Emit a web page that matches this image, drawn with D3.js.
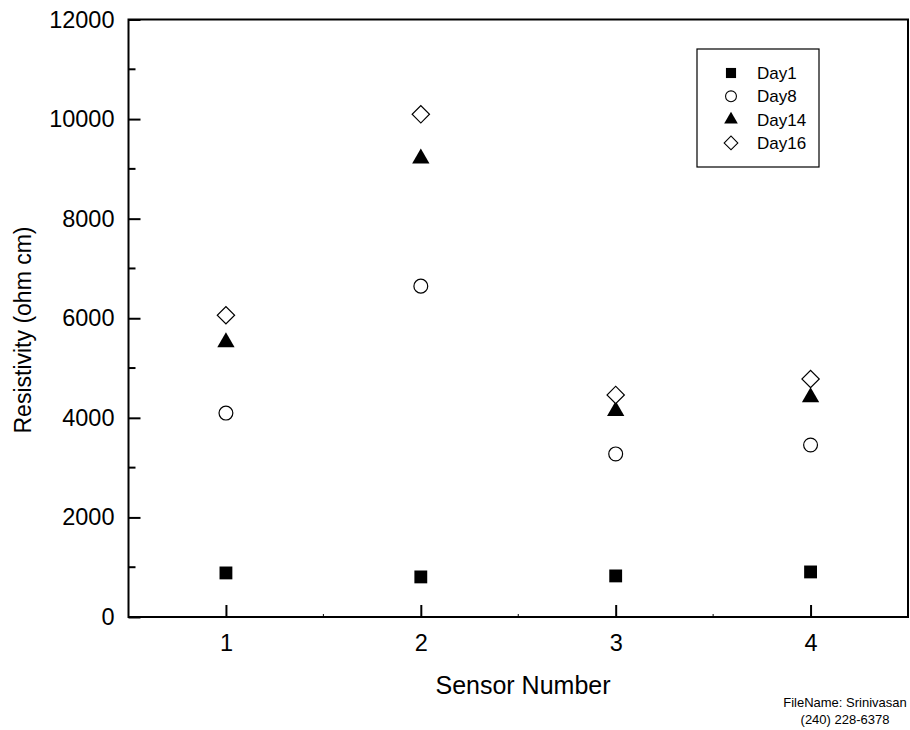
<!DOCTYPE html>
<html>
<head>
<meta charset="utf-8">
<script src="https://cdn.jsdelivr.net/npm/d3@7"></script>
<style>
  body { margin: 0; background: #fff; }
  text { font-family: "Liberation Sans", Arial, sans-serif; fill: #000; }
</style>
</head>
<body>
<script>
// Chart data
var sensors = [1, 2, 3, 4];
var seriesNames = ['Day1', 'Day8', 'Day14', 'Day16'];
var day1 = [885, 805, 825, 905];
var day8 = [4095, 6645, 3275, 3455];
var day14 = [5520, 9210, 4135, 4415];
var day16 = [6060, 10095, 4460, 4780];
var yTicks = [0, 2000, 4000, 6000, 8000, 10000, 12000];

var width = 910,
    height = 730;
var margin = {left: 128.5, right: 2, top: 19.5, bottom: 113};

var svg = d3.select("body").append("svg")
    .attr("width", width)
    .attr("height", height);

var x = d3.scaleLinear().domain([0.5, 4.5]).range([margin.left, width - margin.right]);
var y = d3.scaleLinear().domain([0, 12000]).range([height - margin.bottom, margin.top]);

// symbols per series (diamond = square turned 45 degrees)
var shapes = [
    {type: d3.symbolSquare, size: 165, fill: '#000', rot: 0},
    {type: d3.symbolCircle, size: 150, fill: '#fff', rot: 0},
    {type: d3.symbolTriangle, size: 130, fill: '#000', rot: 0},
    {type: d3.symbolSquare, size: 150, fill: '#fff', rot: 45}
];
var series = [day1, day8, day14, day16];

// frame
var x0 = x.range()[0], x1 = x.range()[1], y0 = y.range()[0], y1 = y.range()[1];
svg.append('rect')
    .attr('x', x0).attr('y', y1)
    .attr('width', x1 - x0).attr('height', y0 - y1)
    .attr('fill', 'none').attr('stroke', '#000').attr('stroke-width', 2);

// x axis (ticks inward)
var xAxis = d3.axisBottom(x).tickValues(sensors).tickSize(-12).tickPadding(17).tickFormat(d3.format('d'));
svg.append('g').attr('transform', 'translate(0,' + y0 + ')').call(xAxis)
    .call(function(g) {
        g.select('.domain').remove();
        g.selectAll('line').attr('stroke-width', 2);
        g.selectAll('text').style('font-size', '23.5px');
    });
// x minor ticks
svg.append('g').selectAll('line').data([1.5, 2.5, 3.5])
    .enter().append('line')
    .attr('x1', x).attr('x2', x)
    .attr('y1', y0).attr('y2', y0 - 3)
    .attr('stroke', '#000').attr('stroke-width', 1);

// y axis
var yAxis = d3.axisLeft(y).tickValues(yTicks).tickSize(-12).tickPadding(14).tickFormat(d3.format('d'));
svg.append('g').attr('transform', 'translate(' + x0 + ',0)').call(yAxis)
    .call(function(g) {
        g.select('.domain').remove();
        g.selectAll('line').attr('stroke-width', 2);
        g.selectAll('text').style('font-size', '23.5px');
    });
// y minor ticks
svg.append('g').selectAll('line').data(d3.range(1000, 12000, 2000))
    .enter().append('line')
    .attr('x1', x0).attr('x2', x0 + 7)
    .attr('y1', y).attr('y2', y)
    .attr('stroke', '#000').attr('stroke-width', 2);

// axis titles
svg.append('text')
    .attr('x', 523).attr('y', 694)
    .attr('text-anchor', 'middle')
    .style('font-size', '25px')
    .text('Sensor Number');
svg.append('text')
    .attr('transform', 'translate(31,330) rotate(-90)')
    .attr('text-anchor', 'middle')
    .style('font-size', '23px')
    .text('Resistivity (ohm cm)');

// points
series.forEach(function(vals, i) {
    svg.append('g').selectAll('path')
        .data(vals)
        .enter().append('path')
        .attr('transform', function(d, j) {
            return 'translate(' + x(sensors[j]) + ',' + y(d) + ') rotate(' + shapes[i].rot + ')';
        })
        .attr('d', d3.symbol().type(shapes[i].type).size(shapes[i].size))
        .attr('fill', shapes[i].fill)
        .attr('stroke', '#000')
        .attr('stroke-width', shapes[i].fill === '#fff' ? 1.2 : 0);
});

// legend
var legend = svg.append('g').attr('transform', 'translate(697,49)');
legend.append('rect')
    .attr('width', 122).attr('height', 118)
    .attr('fill', '#fff').attr('stroke', '#000').attr('stroke-width', 1.2);
seriesNames.forEach(function(name, i) {
    var ly = 24 + i * 23.3;
    legend.append('path')
        .attr('transform', 'translate(34,' + ly + ') rotate(' + shapes[i].rot + ')')
        .attr('d', d3.symbol().type(shapes[i].type).size(shapes[i].size * 0.62))
        .attr('fill', shapes[i].fill)
        .attr('stroke', '#000')
        .attr('stroke-width', shapes[i].fill === '#fff' ? 1.1 : 0);
    legend.append('text')
        .attr('x', 60).attr('y', ly + 6)
        .style('font-size', '17px')
        .text(name);
});

// footer
svg.append('text')
    .attr('x', 845).attr('y', 707)
    .attr('text-anchor', 'middle')
    .style('font-size', '13px')
    .text('FileName: Srinivasan');
svg.append('text')
    .attr('x', 845).attr('y', 724)
    .attr('text-anchor', 'middle')
    .style('font-size', '13px')
    .text('(240) 228-6378');
</script>
</body>
</html>
